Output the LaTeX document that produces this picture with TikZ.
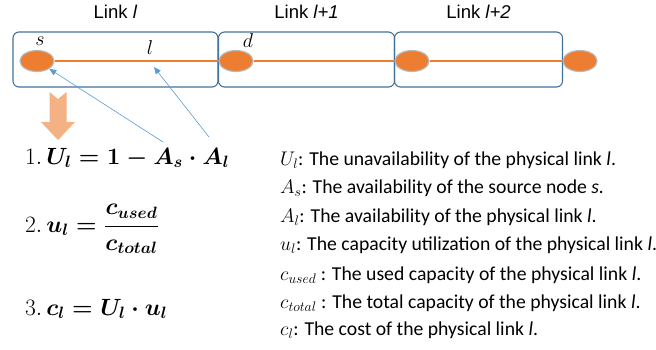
\RequirePackage{fix-cm}
\documentclass[tikz,border=0pt]{standalone}
\usepackage[no-math]{fontspec}
\setmainfont{Carlito}
\newfontfamily\arialfont{Liberation Sans}
\usepackage{amsmath}
\usetikzlibrary{positioning,arrows.meta,shapes.geometric}
\definecolor{boxblue}{RGB}{65,113,156}
\definecolor{linkorange}{RGB}{237,125,49}
\definecolor{arrowblue}{RGB}{91,155,213}
\definecolor{paleorange}{RGB}{244,177,131}
\begin{document}
\begin{tikzpicture}[x=1pt,y=-1pt,
        linkbox/.style={draw=boxblue, line width=1.1pt, rounded corners=6pt, minimum height=55pt, inner sep=0pt},
        linklabel/.style={font=\arialfont\fontsize{18.5}{21}\selectfont},
        host/.style={ellipse, fill=linkorange, draw=gray!55, line width=1.2pt, minimum width=34pt, minimum height=21pt, inner sep=0pt},
        wire/.style={draw=linkorange, line width=1.6pt},
        pointer/.style={draw=arrowblue, line width=0.6pt, -{Triangle[length=7pt,width=6pt]}},
        eq/.style={anchor=west, inner sep=0pt, font=\fontsize{23.5}{27}\selectfont},
        key/.style={anchor=west, inner sep=0pt, font=\fontsize{19.7}{22}\selectfont}]
    \useasboundingbox (0,0) rectangle (656,349);
    % the three links
    \node[linkbox, minimum width=205pt] (box1) at (115.5,59.5) {};
    \node[linkbox, minimum width=176pt] (box2) at (306.5,59.5) {};
    \node[linkbox, minimum width=168pt] (box3) at (478.5,59.5) {};
    \node[linklabel, above=9pt of box1] (lab1) {Link \textit{l}};
    \node[linklabel, above=9pt of box2] (lab2) {Link \textit{l+1}};
    \node[linklabel, above=9pt of box3] (lab3) {Link \textit{l+2}};
    % nodes on the path
    \node[host] (s) at (37,61) {};
    \node[host] (d) at (236,61) {};
    \node[host] (n3) at (412,61) {};
    \node[host] (n4) at (580,61) {};
    \draw[wire] (s) -- (d) -- (n3) -- (n4);
    \node[font=\fontsize{20}{22}\selectfont] (slab) at (40,41) {$s$};
    \node[font=\fontsize{20}{22}\selectfont] (llab) at (150,48) {$l$};
    \node[font=\fontsize{20}{22}\selectfont] (dlab) at (248,41) {$d$};
    % down arrow
    \fill[paleorange] (49.5,92) -- (58,99) -- (66.5,92) -- (66.5,122) -- (75,122)
        -- (58,140) -- (41,122) -- (49.5,122) -- cycle;
    % formulas
    \node[eq] (eq1) at (25,158) {$1.\,${\boldmath$U_l = 1 - A_s \cdot A_l$}};
    \node[eq] (eq2) at (25,229) {$2.\,${\boldmath$u_l = \dfrac{c_{used}}{c_{total}}$}};
    \node[eq] (eq3) at (25,309) {$3.\,${\boldmath$c_l = U_l \cdot u_l$}};
    \coordinate (asfoot) at (163,142);
    \coordinate (alfoot) at (209,137);
    \coordinate (lhit) at (154,67);
    \draw[pointer] (asfoot) -- (s);
    \draw[pointer] (alfoot) -- (lhit);
    % legend
    \foreach \i/\y/\txt in {
            1/160/{$U_l$: The unavailability of the physical link \textit{l}.},
            2/188/{$A_s$: The availability of the source node \textit{s.}},
            3/217/{$A_l$: The availability of the physical link \textit{l}.},
            4/245/{$u_l$: The capacity utilization of the physical link \textit{l}.},
            5/275/{$c_{used}$ : The used capacity of the physical link \textit{l}.},
            6/303/{$c_{total}$ : The total capacity of the physical link \textit{l}.},
            7/330/{$c_l$: The cost of the physical link \textit{l}.}} {
            \node[key] (key\i) at (280,\y) {\txt};
        }
\end{tikzpicture}
\end{document}
